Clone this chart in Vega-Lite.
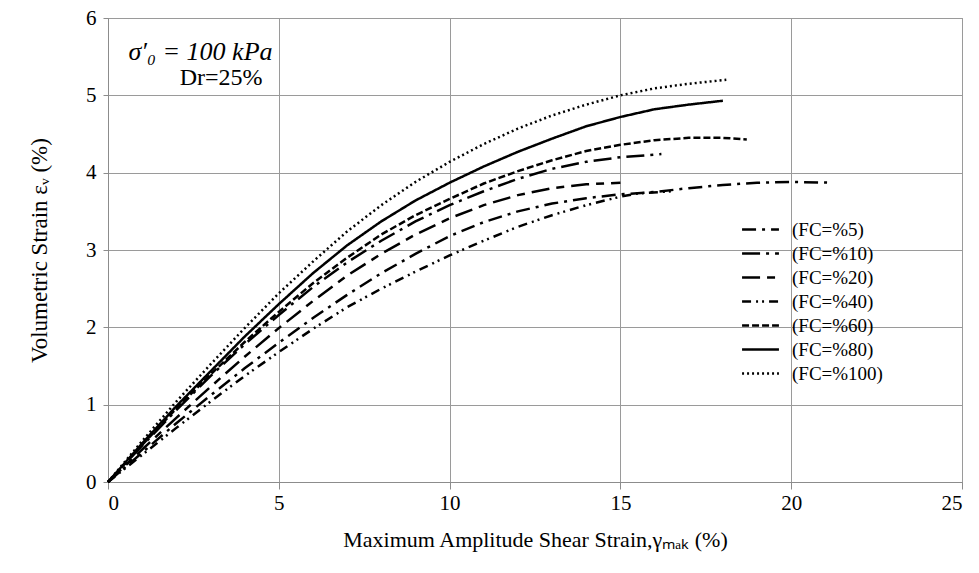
{
  "$schema": "https://vega.github.io/schema/vega-lite/v6.json",
  "width": 854,
  "height": 464,
  "autosize": {"type": "none"},
  "padding": {"left": 108, "top": 18, "right": 17, "bottom": 91},
  "background": "white",
  "config": {
    "view": {"stroke": "#8c8c8c", "strokeWidth": 1},
    "font": "Liberation Serif",
    "axis": {
      "labelFont": "Liberation Serif",
      "titleFont": "Liberation Serif",
      "labelColor": "black",
      "titleColor": "black",
      "titleFontWeight": "normal",
      "gridColor": "#9a9a9a",
      "gridWidth": 1,
      "domainColor": "#8c8c8c",
      "tickColor": "#8c8c8c"
    },
    "legend": {"labelFont": "Liberation Serif"}
  },
  "datasets": {
    "curves": [
      {"fc": "(FC=%5)", "x": 0, "y": 0}, {"fc": "(FC=%5)", "x": 1, "y": 0.38}, {"fc": "(FC=%5)", "x": 2, "y": 0.76}, {"fc": "(FC=%5)", "x": 3, "y": 1.12}, {"fc": "(FC=%5)", "x": 4, "y": 1.47}, {"fc": "(FC=%5)", "x": 5, "y": 1.8}, {"fc": "(FC=%5)", "x": 6, "y": 2.12}, {"fc": "(FC=%5)", "x": 7, "y": 2.42}, {"fc": "(FC=%5)", "x": 8, "y": 2.7}, {"fc": "(FC=%5)", "x": 9, "y": 2.95}, {"fc": "(FC=%5)", "x": 10, "y": 3.18}, {"fc": "(FC=%5)", "x": 11, "y": 3.36}, {"fc": "(FC=%5)", "x": 12, "y": 3.5}, {"fc": "(FC=%5)", "x": 13, "y": 3.6}, {"fc": "(FC=%5)", "x": 14, "y": 3.67}, {"fc": "(FC=%5)", "x": 15, "y": 3.72}, {"fc": "(FC=%5)", "x": 16, "y": 3.75}, {"fc": "(FC=%5)", "x": 17, "y": 3.8}, {"fc": "(FC=%5)", "x": 18, "y": 3.84}, {"fc": "(FC=%5)", "x": 19, "y": 3.87}, {"fc": "(FC=%5)", "x": 20, "y": 3.88}, {"fc": "(FC=%5)", "x": 21.2, "y": 3.87},
      {"fc": "(FC=%10)", "x": 0, "y": 0}, {"fc": "(FC=%10)", "x": 1, "y": 0.47}, {"fc": "(FC=%10)", "x": 2, "y": 0.93}, {"fc": "(FC=%10)", "x": 3, "y": 1.37}, {"fc": "(FC=%10)", "x": 4, "y": 1.78}, {"fc": "(FC=%10)", "x": 5, "y": 2.16}, {"fc": "(FC=%10)", "x": 6, "y": 2.52}, {"fc": "(FC=%10)", "x": 7, "y": 2.84}, {"fc": "(FC=%10)", "x": 8, "y": 3.12}, {"fc": "(FC=%10)", "x": 9, "y": 3.37}, {"fc": "(FC=%10)", "x": 10, "y": 3.58}, {"fc": "(FC=%10)", "x": 11, "y": 3.76}, {"fc": "(FC=%10)", "x": 12, "y": 3.92}, {"fc": "(FC=%10)", "x": 13, "y": 4.05}, {"fc": "(FC=%10)", "x": 14, "y": 4.14}, {"fc": "(FC=%10)", "x": 15, "y": 4.2}, {"fc": "(FC=%10)", "x": 16.2, "y": 4.24},
      {"fc": "(FC=%20)", "x": 0, "y": 0}, {"fc": "(FC=%20)", "x": 1, "y": 0.42}, {"fc": "(FC=%20)", "x": 2, "y": 0.83}, {"fc": "(FC=%20)", "x": 3, "y": 1.23}, {"fc": "(FC=%20)", "x": 4, "y": 1.62}, {"fc": "(FC=%20)", "x": 5, "y": 1.99}, {"fc": "(FC=%20)", "x": 6, "y": 2.34}, {"fc": "(FC=%20)", "x": 7, "y": 2.67}, {"fc": "(FC=%20)", "x": 8, "y": 2.95}, {"fc": "(FC=%20)", "x": 9, "y": 3.2}, {"fc": "(FC=%20)", "x": 10, "y": 3.41}, {"fc": "(FC=%20)", "x": 11, "y": 3.58}, {"fc": "(FC=%20)", "x": 12, "y": 3.71}, {"fc": "(FC=%20)", "x": 13, "y": 3.8}, {"fc": "(FC=%20)", "x": 14, "y": 3.85}, {"fc": "(FC=%20)", "x": 15, "y": 3.87},
      {"fc": "(FC=%40)", "x": 0, "y": 0}, {"fc": "(FC=%40)", "x": 1, "y": 0.35}, {"fc": "(FC=%40)", "x": 2, "y": 0.7}, {"fc": "(FC=%40)", "x": 3, "y": 1.04}, {"fc": "(FC=%40)", "x": 4, "y": 1.37}, {"fc": "(FC=%40)", "x": 5, "y": 1.68}, {"fc": "(FC=%40)", "x": 6, "y": 1.98}, {"fc": "(FC=%40)", "x": 7, "y": 2.26}, {"fc": "(FC=%40)", "x": 8, "y": 2.5}, {"fc": "(FC=%40)", "x": 9, "y": 2.72}, {"fc": "(FC=%40)", "x": 10, "y": 2.93}, {"fc": "(FC=%40)", "x": 11, "y": 3.12}, {"fc": "(FC=%40)", "x": 12, "y": 3.3}, {"fc": "(FC=%40)", "x": 13, "y": 3.45}, {"fc": "(FC=%40)", "x": 14, "y": 3.58}, {"fc": "(FC=%40)", "x": 15, "y": 3.69}, {"fc": "(FC=%40)", "x": 15.5, "y": 3.73}, {"fc": "(FC=%40)", "x": 16.5, "y": 3.76},
      {"fc": "(FC=%60)", "x": 0, "y": 0}, {"fc": "(FC=%60)", "x": 1, "y": 0.48}, {"fc": "(FC=%60)", "x": 2, "y": 0.95}, {"fc": "(FC=%60)", "x": 3, "y": 1.39}, {"fc": "(FC=%60)", "x": 4, "y": 1.81}, {"fc": "(FC=%60)", "x": 5, "y": 2.2}, {"fc": "(FC=%60)", "x": 6, "y": 2.57}, {"fc": "(FC=%60)", "x": 7, "y": 2.9}, {"fc": "(FC=%60)", "x": 8, "y": 3.2}, {"fc": "(FC=%60)", "x": 9, "y": 3.45}, {"fc": "(FC=%60)", "x": 10, "y": 3.66}, {"fc": "(FC=%60)", "x": 11, "y": 3.86}, {"fc": "(FC=%60)", "x": 12, "y": 4.02}, {"fc": "(FC=%60)", "x": 13, "y": 4.16}, {"fc": "(FC=%60)", "x": 14, "y": 4.28}, {"fc": "(FC=%60)", "x": 15, "y": 4.36}, {"fc": "(FC=%60)", "x": 16, "y": 4.42}, {"fc": "(FC=%60)", "x": 17, "y": 4.45}, {"fc": "(FC=%60)", "x": 18, "y": 4.45}, {"fc": "(FC=%60)", "x": 18.7, "y": 4.43},
      {"fc": "(FC=%80)", "x": 0, "y": 0}, {"fc": "(FC=%80)", "x": 1, "y": 0.5}, {"fc": "(FC=%80)", "x": 2, "y": 0.98}, {"fc": "(FC=%80)", "x": 3, "y": 1.43}, {"fc": "(FC=%80)", "x": 4, "y": 1.88}, {"fc": "(FC=%80)", "x": 5, "y": 2.3}, {"fc": "(FC=%80)", "x": 6, "y": 2.7}, {"fc": "(FC=%80)", "x": 7, "y": 3.06}, {"fc": "(FC=%80)", "x": 8, "y": 3.37}, {"fc": "(FC=%80)", "x": 9, "y": 3.64}, {"fc": "(FC=%80)", "x": 10, "y": 3.87}, {"fc": "(FC=%80)", "x": 11, "y": 4.08}, {"fc": "(FC=%80)", "x": 12, "y": 4.27}, {"fc": "(FC=%80)", "x": 13, "y": 4.44}, {"fc": "(FC=%80)", "x": 14, "y": 4.6}, {"fc": "(FC=%80)", "x": 15, "y": 4.72}, {"fc": "(FC=%80)", "x": 16, "y": 4.82}, {"fc": "(FC=%80)", "x": 17, "y": 4.88}, {"fc": "(FC=%80)", "x": 18, "y": 4.93},
      {"fc": "(FC=%100)", "x": 0, "y": 0}, {"fc": "(FC=%100)", "x": 1, "y": 0.53}, {"fc": "(FC=%100)", "x": 2, "y": 1.04}, {"fc": "(FC=%100)", "x": 3, "y": 1.52}, {"fc": "(FC=%100)", "x": 4, "y": 1.99}, {"fc": "(FC=%100)", "x": 5, "y": 2.44}, {"fc": "(FC=%100)", "x": 6, "y": 2.85}, {"fc": "(FC=%100)", "x": 7, "y": 3.24}, {"fc": "(FC=%100)", "x": 8, "y": 3.58}, {"fc": "(FC=%100)", "x": 9, "y": 3.88}, {"fc": "(FC=%100)", "x": 10, "y": 4.14}, {"fc": "(FC=%100)", "x": 11, "y": 4.37}, {"fc": "(FC=%100)", "x": 12, "y": 4.57}, {"fc": "(FC=%100)", "x": 13, "y": 4.74}, {"fc": "(FC=%100)", "x": 14, "y": 4.88}, {"fc": "(FC=%100)", "x": 15, "y": 5.0}, {"fc": "(FC=%100)", "x": 16, "y": 5.09}, {"fc": "(FC=%100)", "x": 17, "y": 5.15}, {"fc": "(FC=%100)", "x": 18.1, "y": 5.2}
    ],
    "mathnote": [{"x": 0.6, "y": 5.56, "label": "σ′₀ = 100 kPa"}],
    "plainnote": [{"x": 2.1, "y": 5.22, "label": "Dr=25%"}]
  },
  "layer": [
    {
      "data": {"name": "curves"},
      "mark": {"type": "line", "color": "black", "strokeWidth": 2.5, "strokeCap": "butt"},
      "encoding": {
        "x": {
          "field": "x", "type": "quantitative",
          "scale": {"domain": [0, 25], "nice": false, "zero": true},
          "axis": {
            "values": [0, 5, 10, 15, 20, 25],
            "format": "d",
            "title": "Maximum Amplitude Shear Strain,γₘₐₖ (%)",
            "labelFont": "Liberation Serif", "titleFont": "Liberation Serif",
            "labelFontSize": 21, "titleFontSize": 22,
            "tickSize": 7, "labelPadding": 3, "titlePadding": 16
          }
        },
        "y": {
          "field": "y", "type": "quantitative",
          "scale": {"domain": [0, 6], "nice": false},
          "axis": {
            "values": [0, 1, 2, 3, 4, 5, 6],
            "format": "d",
            "title": "Volumetric Strain  εᵥ (%)",
            "labelFont": "Liberation Serif", "titleFont": "Liberation Serif",
            "labelFontSize": 21, "titleFontSize": 23,
            "tickSize": 5, "labelPadding": 7, "titlePadding": 34
          }
        },
        "strokeDash": {
          "field": "fc", "type": "nominal",
          "scale": {
            "domain": ["(FC=%5)", "(FC=%10)", "(FC=%20)", "(FC=%40)", "(FC=%60)", "(FC=%80)", "(FC=%100)"],
            "range": [[14, 6, 3, 6], [18, 6, 3, 6], [18, 7, 8, 7], [9, 5, 2, 4, 2, 5], [7, 3], [1, 0], [2, 3]]
          },
          "legend": {
            "title": null,
            "orient": "none",
            "legendX": 642,
            "legendY": 201,
            "symbolType": "M-2,0H2",
            "symbolSize": 340,
            "symbolStrokeWidth": 2.5,
            "symbolStrokeColor": "black",
            "symbolFillColor": "transparent",
            "labelFont": "Liberation Serif",
            "labelFontSize": 19,
            "labelColor": "black",
            "labelOffset": 21,
            "rowPadding": 3,
            "padding": 0
          }
        }
      }
    },
    {
      "data": {"name": "mathnote"},
      "mark": {"type": "text", "align": "left", "baseline": "middle", "color": "black", "font": "Liberation Serif", "fontSize": 26, "fontStyle": "italic"},
      "encoding": {
        "x": {"field": "x", "type": "quantitative"},
        "y": {"field": "y", "type": "quantitative"},
        "text": {"field": "label"}
      }
    },
    {
      "data": {"name": "plainnote"},
      "mark": {"type": "text", "align": "left", "baseline": "middle", "color": "black", "font": "Liberation Serif", "fontSize": 24},
      "encoding": {
        "x": {"field": "x", "type": "quantitative"},
        "y": {"field": "y", "type": "quantitative"},
        "text": {"field": "label"}
      }
    }
  ]
}
